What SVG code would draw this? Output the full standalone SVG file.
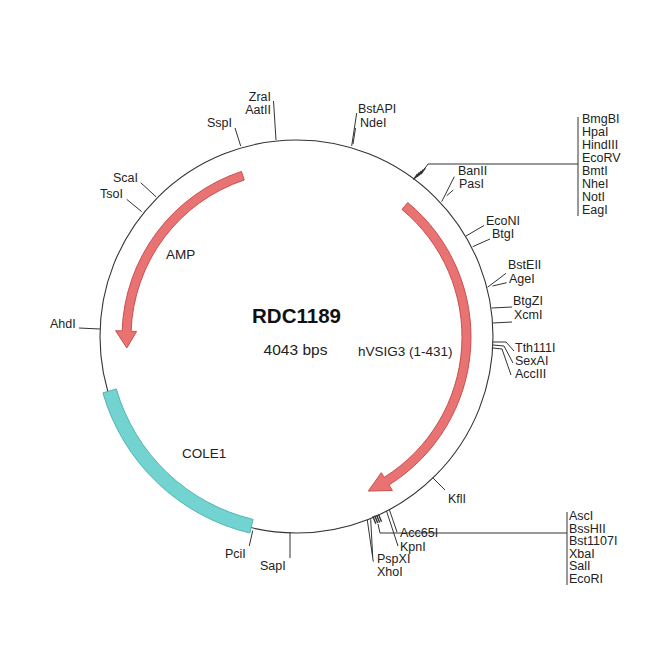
<svg xmlns="http://www.w3.org/2000/svg" width="650" height="650" viewBox="0 0 650 650">
<style>
.lbl{font-family:"Liberation Sans",Arial,sans-serif;font-size:12.5px;fill:#222}
.feat{font-family:"Liberation Sans",Arial,sans-serif;font-size:13.5px;fill:#222}
.ln{fill:none;stroke:#333;stroke-width:1}
.hatch{fill:none;stroke:#333;stroke-width:1.4}
.red{fill:#e97272;stroke:#c94f4f;stroke-width:1}
.teal{fill:#73d3d1;stroke:#4fb6b4;stroke-width:1}
</style>
<rect width="650" height="650" fill="#fff"/>
<g id="backbone">
<circle cx="296.5" cy="336.5" r="196.5" fill="none" stroke="#333" stroke-width="1.1"/>
</g>
<g id="feature-AMP">
<path class="red" d="M241.43,171.42 A174.5,174.5 0 0 0 122.11,330.91 L115.61,330.68 L126.85,347.97 L136.60,331.42 L131.10,331.22 A165.5,165.5 0 0 1 244.27,179.96 Z"/>
<text class="feat" x="166" y="259">AMP</text>
</g>
<g id="feature-hVSIG3">
<path class="red" d="M407.73,202.55 A174.5,174.5 0 0 1 388.97,484.98 L392.41,490.49 L368.34,491.07 L381.28,472.68 L384.20,477.34 A165.5,165.5 0 0 0 401.99,209.48 Z"/>
<text class="feat" x="358" y="356">hVSIG3 (1-431)</text>
</g>
<g id="feature-COLE1">
<path class="teal" d="M249.81,533.02 A201.5,201.5 0 0 1 102.90,392.88 L116.35,388.99 A187.5,187.5 0 0 0 253.06,519.40 Z"/>
<text class="feat" x="182" y="458">COLE1</text>
</g>
<g id="title">
<text x="296.5" y="323" text-anchor="middle" font-family="Liberation Sans,Arial,sans-serif" font-size="20.5" font-weight="bold" fill="#111">RDC1189</text>
<text x="295.5" y="355" text-anchor="middle" font-family="Liberation Sans,Arial,sans-serif" font-size="15.5" fill="#222">4043 bps</text>
</g>
<g id="connectors">
<path class="ln" d="M240.7,146 L235,128"/>
<path class="ln" d="M276,140 L273.5,101"/>
<path class="ln" d="M351.7,146 L356.7,113 M353,144 L355.5,128"/>
<path class="hatch" d="M413.4,179.6 L417.6,173.8 M415.3,178.2 L419.5,172.4 M417.2,176.8 L421.4,171 M419.1,175.4 L423.3,169.6 M421,174 L425.2,168.2"/>
<path class="ln" d="M423,171 L428,164 L578,164"/>
<path class="ln" d="M578,117 L578,216"/>
<path class="ln" d="M441.7,201.7 L454.3,176.7 M446.7,195.7 L453.3,190"/>
<path class="ln" d="M466,236 L484,225.5 M472.7,246.7 L490,239"/>
<path class="ln" d="M487.5,287.3 L506,273.3 M492.5,286 L506.7,282.7"/>
<path class="ln" d="M491.5,308 L512,307 M492.5,323 L512,322"/>
<path class="ln" d="M493,342 L506,342 L514,351 M493,345 L504,346 L513,363 M493,348 L502,349 L511,375"/>
<path class="ln" d="M433,478 L445,490"/>
<path class="hatch" d="M372.8,516.3 L375.8,523.8 M374.7,515.6 L377.7,523.1 M376.6,514.9 L379.6,522.4 M378.5,514.2 L381.5,521.7"/>
<path class="ln" d="M378,524 L380,533 L567,533"/>
<path class="ln" d="M567,512 L567,585"/>
<path class="ln" d="M389.3,509.5 L397,532 M386.5,511 L398,546"/>
<path class="ln" d="M367.3,520 L373.3,561.7 M370.7,519.3 L372.7,556.7"/>
<path class="ln" d="M252.7,530.7 L249.3,546"/>
<path class="ln" d="M290,532 L290,558"/>
<path class="ln" d="M156,196.7 L140.7,182.7"/>
<path class="ln" d="M141.7,211.7 L126.7,199.3"/>
<path class="ln" d="M100,329 L79,328"/>
</g>
<g id="site-SspI"><text class="lbl" x="207" y="127">SspI</text></g>
<g id="site-ZraI-AatII">
<text class="lbl" x="271" y="100.5" text-anchor="end">ZraI</text>
<text class="lbl" x="271" y="113.5" text-anchor="end">AatII</text>
</g>
<g id="site-BstAPI-NdeI">
<text class="lbl" x="358" y="113">BstAPI</text>
<text class="lbl" x="360" y="127">NdeI</text>
</g>
<g id="site-cluster-top">
<text class="lbl" x="582" y="123">BmgBI</text>
<text class="lbl" x="582" y="136">HpaI</text>
<text class="lbl" x="582" y="149">HindIII</text>
<text class="lbl" x="582" y="162">EcoRV</text>
<text class="lbl" x="582" y="175">BmtI</text>
<text class="lbl" x="582" y="188">NheI</text>
<text class="lbl" x="582" y="201">NotI</text>
<text class="lbl" x="582" y="214">EagI</text>
</g>
<g id="site-BanII-PasI">
<text class="lbl" x="458" y="175">BanII</text>
<text class="lbl" x="459" y="188">PasI</text>
</g>
<g id="site-EcoNI-BtgI">
<text class="lbl" x="486" y="224.5">EcoNI</text>
<text class="lbl" x="492" y="237.5">BtgI</text>
</g>
<g id="site-BstEII-AgeI">
<text class="lbl" x="508" y="269">BstEII</text>
<text class="lbl" x="509" y="283">AgeI</text>
</g>
<g id="site-BtgZI-XcmI">
<text class="lbl" x="513" y="305">BtgZI</text>
<text class="lbl" x="514" y="319">XcmI</text>
</g>
<g id="site-Tth111I-SexAI-AccIII">
<text class="lbl" x="515" y="352">Tth111I</text>
<text class="lbl" x="515" y="365">SexAI</text>
<text class="lbl" x="515" y="378">AccIII</text>
</g>
<g id="site-KflI"><text class="lbl" x="448" y="503">KflI</text></g>
<g id="site-cluster-bottom">
<text class="lbl" x="569" y="520">AscI</text>
<text class="lbl" x="569" y="532.5">BssHII</text>
<text class="lbl" x="569" y="545">Bst1107I</text>
<text class="lbl" x="569" y="557.5">XbaI</text>
<text class="lbl" x="569" y="570">SalI</text>
<text class="lbl" x="569" y="582.5">EcoRI</text>
</g>
<g id="site-Acc65I-KpnI">
<text class="lbl" x="400" y="537">Acc65I</text>
<text class="lbl" x="400" y="551">KpnI</text>
</g>
<g id="site-PspXI-XhoI">
<text class="lbl" x="377" y="562.5">PspXI</text>
<text class="lbl" x="377" y="575.5">XhoI</text>
</g>
<g id="site-PciI"><text class="lbl" x="225" y="558">PciI</text></g>
<g id="site-SapI"><text class="lbl" x="260" y="570">SapI</text></g>
<g id="site-ScaI"><text class="lbl" x="113" y="182">ScaI</text></g>
<g id="site-TsoI"><text class="lbl" x="100" y="198">TsoI</text></g>
<g id="site-AhdI"><text class="lbl" x="50" y="328">AhdI</text></g>
</svg>
